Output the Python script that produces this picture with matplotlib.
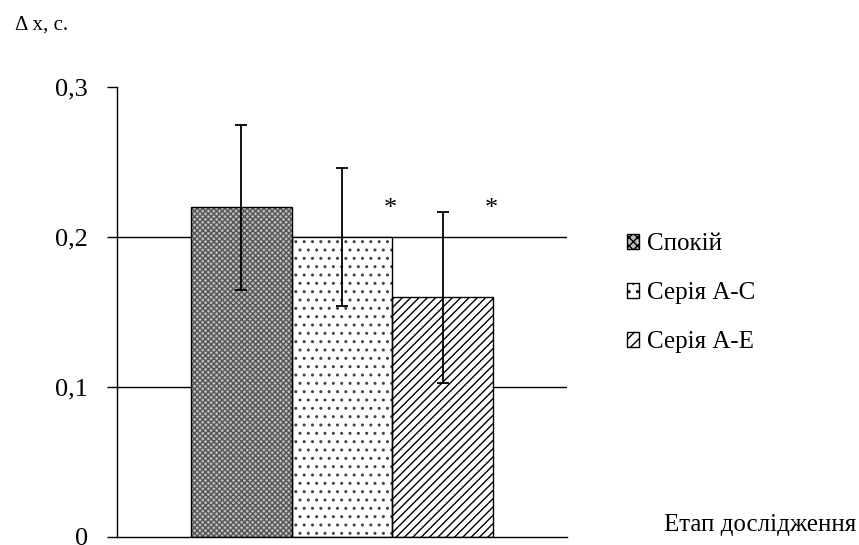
import matplotlib
matplotlib.use('Agg')

import matplotlib.pyplot as plt
from matplotlib.patches import Patch

plt.rcParams['font.family'] = ['Liberation Serif', 'DejaVu Serif']
plt.rcParams['hatch.linewidth'] = 1.0

stages = ['Спокій', 'Серія А-С', 'Серія А-Е']
means = [0.22, 0.20, 0.16]
errors = [0.055, 0.046, 0.057]
significant = [False, True, True]

hatches = ['xxxxxx', '..', '////']
hatch_colors = ['#555555', '#444444', 'black']
face_colors = ['#bdbdbd', 'white', 'white']

fig = plt.figure(figsize=(8.59, 5.45), dpi=100)
ax = fig.add_axes([0.136, 0.0147, 0.524, 0.8253])

positions = [0, 1, 2]
for pos, m, e, h, hc, fc in zip(positions, means, errors, hatches, hatch_colors, face_colors):
    ax.bar(pos, m, width=1.0, color=fc, edgecolor=hc, hatch=h, linewidth=0, zorder=2)
    ax.bar(pos, m, width=1.0, color='none', edgecolor='black', linewidth=1.0, zorder=3)
    ax.errorbar(pos, m, yerr=e, fmt='none', ecolor='black', elinewidth=1.3,
                capsize=4, capthick=1.3, zorder=4)

for pos, sig in zip(positions, significant):
    if sig:
        ax.text(pos + 0.48, 0.219, '*', ha='center', va='center', fontsize=19)

for y in [0.1, 0.2]:
    ax.axhline(y, color='black', linewidth=1.0, zorder=1)

ax.set_xlim(-1.235, 3.234)
ax.set_ylim(0, 0.3)
ax.set_yticks([0, 0.1, 0.2, 0.3])
ax.set_yticklabels(['0', '0,1', '0,2', '0,3'], fontsize=19)
ax.set_xticks([])
ax.tick_params(axis='y', length=7, width=1.0, pad=14)
for side in ['top', 'right']:
    ax.spines[side].set_visible(False)
ax.spines['left'].set_linewidth(1.0)
ax.spines['bottom'].set_linewidth(1.0)

fig.text(0.017, 0.945, 'Δ x, с.', fontsize=15)
fig.text(0.997, 0.026, 'Етап дослідження', fontsize=18, ha='right')

handles = [Patch(facecolor=fc, edgecolor='black', hatch=h, linewidth=1.0)
           for fc, h in zip(face_colors, ['xxxx', '..', '///'])]
fig.legend(handles, stages, loc='upper left', bbox_to_anchor=(0.718, 0.59),
           frameon=False, fontsize=18, handlelength=0.5, handleheight=0.5,
           handletextpad=0.3, labelspacing=1.08, borderaxespad=0)

plt.savefig('out.png', dpi=100)
